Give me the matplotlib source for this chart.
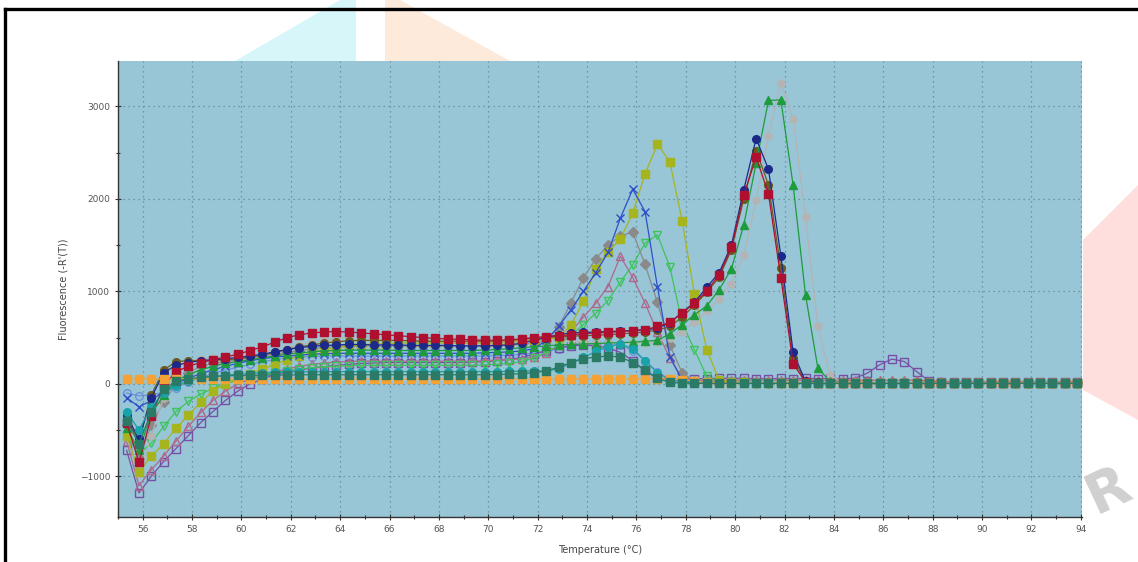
########################################################################
# Melt curve (-R'(T)) vs temperature, re-drawn with matplotlib ---------
########################################################################
import numpy as np
import matplotlib
matplotlib.use('agg')
import matplotlib.pyplot as plt
from matplotlib.lines import Line2D
from matplotlib.patches import Polygon
from matplotlib.ticker import MultipleLocator

W, H = 1138, 562

# temperature steps of the instrument (0.5 C)
temperature = np.arange(55.35, 94.0, 0.5)   # 78 readings

# series values, one list per well (same length as temperature)
navy = [-340, -600, -150, 120, 200, 230, 250, 260, 270, 285, 300, 320, 345,
        370, 390, 405, 415, 420, 425, 425, 420, 420, 420, 415, 415, 415,
        415, 410, 410, 410, 415, 420, 440, 470, 500, 530, 550, 555, 560,
        565, 570, 575, 585, 600, 660, 770, 880, 1045, 1200, 1500, 2100, 2650,
        2320, 1384, 339, 25, 15, 12, 12, 10, 11, 10, 12, 10, 10,
        11, 10, 10, 12, 10, 10, 11, 10, 10, 12, 10, 10, 10]
red = [-420, -850, -350, -20, 130, 190, 230, 260, 290, 320, 360, 400, 450,
       500, 530, 550, 560, 565, 560, 550, 540, 530, 520, 510, 500, 490,
       485, 480, 475, 470, 470, 475, 485, 500, 511, 520, 530, 540, 550,
       555, 565, 576, 584, 620, 663, 764, 872, 1005, 1178, 1474, 2043, 2450,
       2054, 1146, 216, 20, 12, 10, 12, 10, 10, 12, 10, 10, 12,
       10, 10, 12, 10, 10, 12, 10, 10, 12, 10, 10, 12, 10]
green_tri = [-480, -720, -330, -120, 30, 100, 150, 190, 220, 240, 260, 280, 300,
             320, 335, 345, 355, 360, 365, 365, 365, 365, 360, 360, 360, 360,
             360, 360, 360, 365, 370, 380, 390, 400, 410, 420, 425, 430, 435,
             440, 445, 450, 460, 470, 540, 640, 746, 843, 1016, 1243, 1719, 2386,
             3063, 3070, 2144, 962, 169, 25, 15, 12, 10, 12, 10, 10, 12,
             10, 10, 12, 10, 10, 12, 10, 10, 12, 10, 10, 12, 10]
gray_hex = [-580, -980, -560, -150, 180, 250, 270, 280, 290, 300, 320, 340, 360,
            390, 420, 450, 470, 490, 500, 505, 510, 510, 510, 510, 505, 500,
            500, 495, 490, 490, 490, 490, 490, 490, 480, 470, 460, 450, 445,
            440, 440, 440, 445, 455, 500, 560, 673, 782, 919, 1081, 1395, 1982,
            2681, 3257, 2862, 1802, 627, 90, 20, 15, 14, 12, 14, 12, 12,
            14, 12, 12, 14, 12, 12, 14, 12, 12, 14, 12, 12, 12]
olive = [-560, -950, -780, -650, -480, -340, -200, -80, 0, 60, 110, 160, 210,
         260, 300, 340, 370, 390, 410, 420, 430, 435, 440, 440, 440, 440,
         440, 440, 440, 440, 445, 450, 460, 470, 480, 497, 638, 890, 1240,
         1430, 1564, 1845, 2270, 2590, 2403, 1765, 973, 368, 40, 20, 15, 12,
         12, 10, 12, 10, 10, 12, 10, 10, 12, 10, 10, 12, 10,
         10, 12, 10, 10, 12, 10, 10, 12, 10, 10, 12, 10, 10]
blue_x = [-150, -250, -180, -80, 0, 60, 110, 150, 190, 220, 250, 270, 290,
          300, 310, 320, 325, 330, 330, 330, 330, 330, 330, 330, 330, 330,
          330, 330, 330, 335, 340, 345, 355, 380, 470, 620, 800, 1000, 1200,
          1420, 1791, 2104, 1862, 1052, 295, 40, 20, 15, 12, 12, 10, 10,
          10, 12, 10, 10, 12, 10, 10, 12, 10, 10, 12, 10, 10,
          12, 10, 10, 12, 10, 10, 12, 10, 10, 12, 10, 10, 10]
mauve = [-620, -1100, -930, -780, -620, -460, -310, -180, -80, 0, 50, 90, 130,
         160, 190, 210, 225, 235, 240, 245, 245, 245, 245, 245, 245, 245,
         245, 245, 245, 250, 255, 260, 270, 290, 330, 420, 560, 720, 870,
         1052, 1378, 1150, 872, 560, 280, 60, 40, 38, 40, 38, 40, 38,
         40, 38, 40, 38, 40, 38, 40, 38, 40, 38, 40, 38, 40,
         30, 25, 22, 20, 22, 20, 22, 20, 22, 20, 22, 20, 20]
green_open = [-560, -760, -640, -460, -300, -190, -110, -50, 0, 40, 70, 100, 120,
              140, 160, 175, 185, 190, 195, 200, 200, 200, 200, 200, 200, 200,
              200, 200, 200, 205, 210, 220, 240, 280, 340, 420, 520, 640, 760,
              900, 1100, 1286, 1521, 1611, 1268, 659, 368, 80, 20, 15, 15, 12,
              12, 10, 12, 10, 10, 12, 10, 10, 12, 10, 10, 12, 10,
              10, 12, 10, 10, 12, 10, 10, 12, 10, 10, 12, 10, 10]
gray_dia = [-450, -800, -450, -200, 0, 120, 190, 220, 240, 260, 280, 300, 320,
            340, 360, 380, 395, 405, 410, 410, 410, 410, 410, 410, 410, 410,
            410, 410, 410, 410, 415, 420, 430, 440, 460, 616, 875, 1146, 1350,
            1500, 1600, 1640, 1290, 880, 420, 120, 30, 20, 18, 16, 15, 14,
            14, 12, 14, 12, 12, 14, 12, 12, 14, 12, 12, 14, 12,
            12, 14, 12, 12, 14, 12, 12, 14, 12, 12, 14, 12, 12]
purple = [-720, -1180, -1000, -840, -700, -560, -420, -300, -180, -80, 0, 50, 100,
          130, 150, 170, 185, 200, 210, 220, 225, 230, 230, 230, 230, 230,
          230, 230, 235, 240, 250, 265, 285, 320, 360, 390, 410, 420, 410,
          390, 340, 250, 140, 60, 45, 50, 55, 55, 60, 60, 60, 55,
          55, 58, 55, 58, 55, 58, 55, 60, 115, 205, 267, 241, 133,
          30, 20, 15, 15, 15, 15, 15, 15, 15, 15, 15, 15, 15]
teal = [-300, -500, -250, -100, -20, 30, 60, 80, 95, 105, 110, 120, 125,
        128, 130, 130, 132, 132, 132, 132, 132, 132, 132, 132, 132, 132,
        132, 132, 132, 132, 132, 134, 136, 138, 140, 160, 227, 285, 350,
        400, 430, 380, 250, 120, 40, 20, 15, 12, 10, 10, 10, 10,
        10, 12, 10, 10, 12, 10, 10, 12, 10, 10, 12, 10, 10,
        12, 10, 10, 12, 10, 10, 12, 10, 10, 12, 10, 10, 10]
cornflower = [-100, -130, -120, -90, -40, 20, 70, 110, 150, 180, 210, 240, 260,
              280, 290, 295, 300, 300, 300, 300, 300, 300, 300, 300, 300, 300,
              300, 300, 300, 300, 305, 310, 320, 330, 350, 380, 410, 430, 440,
              440, 420, 360, 250, 130, 50, 25, 20, 18, 16, 15, 14, 14,
              14, 12, 14, 12, 12, 14, 12, 12, 14, 12, 12, 14, 12,
              12, 14, 12, 12, 14, 12, 12, 14, 12, 12, 14, 12, 12]
dark_olive = [-380, -620, -120, 150, 240, 250, 250, 255, 260, 270, 290, 310, 340,
              370, 400, 420, 440, 455, 465, 470, 470, 470, 470, 465, 460, 460,
              460, 460, 460, 460, 465, 470, 480, 490, 500, 510, 515, 520, 525,
              530, 540, 550, 560, 580, 620, 720, 850, 990, 1150, 1450, 2000, 2520,
              2150, 1250, 280, 20, 12, 10, 12, 10, 10, 12, 10, 10, 12,
              10, 10, 12, 10, 10, 12, 10, 10, 12, 10, 10, 12, 10]
orange = [50, 55, 52, 50, 55, 52, 50, 55, 50, 52, 55, 50, 52,
          55, 50, 52, 55, 50, 52, 55, 50, 52, 55, 50, 52, 55,
          50, 52, 55, 50, 52, 55, 50, 52, 55, 50, 52, 55, 50,
          52, 55, 50, 52, 55, 50, 45, 30, 15, 10, 8, 8, 8,
          8, 8, 8, 8, 8, 8, 8, 8, 8, 8, 8, 8, 8,
          8, 8, 8, 8, 8, 8, 8, 8, 8, 8, 8, 8, 8]
dark_green = [-400, -650, -300, -60, 30, 55, 70, 80, 85, 90, 90, 95, 95,
              95, 98, 98, 98, 98, 98, 98, 98, 98, 98, 98, 98, 98,
              98, 98, 98, 98, 100, 105, 110, 120, 140, 180, 230, 270, 290,
              300, 290, 230, 150, 60, 15, 6, 5, 4, 5, 4, 5, 4,
              5, 4, 5, 4, 5, 4, 5, 4, 5, 4, 5, 4, 5,
              4, 5, 4, 5, 4, 5, 4, 5, 4, 5, 4, 5, 4]

# draw order = list order (last one on top)
series = [
    ('cornflower', cornflower, 'o', '#6f8fdc', False),
    ('purple',     purple,     's', '#7650a6', False),
    ('mauve',      mauve,      '^', '#b0688c', False),
    ('green_open', green_open, 'v', '#3dc45c', False),
    ('gray_dia',   gray_dia,   'D', '#8a8a8a', True),
    ('gray_hex',   gray_hex,   'h', '#b4b4b4', True),
    ('olive',      olive,      's', '#a6b41e', True),
    ('blue_x',     blue_x,     'x', '#2f4fca', True),
    ('dark_olive', dark_olive, 'o', '#6b5a1e', True),
    ('green_tri',  green_tri,  '^', '#1e9b3c', True),
    ('navy',       navy,       'o', '#1b2a8a', True),
    ('red',        red,        's', '#b01030', True),
    ('teal',       teal,       'o', '#1aa2aa', True),
    ('orange',     orange,     's', '#f4a236', True),
    ('dark_green', dark_green, 's', '#2a7a66', True),
]
for name, vals, mk, col, filled in series:
    if len(vals) != len(temperature):
        print('length mismatch:', name, len(vals))

fig = plt.figure(figsize=(W / 100, H / 100), dpi=100)
fig.patch.set_facecolor('white')

# watermark shapes (pixel coords from top-left)
def px_poly(pts, color, alpha=1.0):
    xy = [(x / W, 1 - y / H) for x, y in pts]
    fig.add_artist(Polygon(xy, closed=True, transform=fig.transFigure,
                           facecolor=color, edgecolor='none', alpha=alpha, zorder=0))

px_poly([(235, 61), (340, 0), (356, 0), (356, 61)], '#d6f6fa')
px_poly([(385, 0), (400, 0), (510, 61), (385, 61)], '#fdeadb')
px_poly([(1083, 240), (1138, 185), (1138, 420), (1083, 390)], '#ffdede')

ax = fig.add_axes([118 / W, 1 - 517 / H, (1082 - 118) / W, (517 - 61) / H])
ax.set_facecolor('#98c6d6')

for name, vals, mk, col, filled in series:
    ax.plot(temperature, vals, color=col, lw=0.9, marker=mk, markersize=5.5,
            markerfacecolor=col if filled else 'none', markeredgecolor=col,
            markeredgewidth=1.0)

ax.set_xlim(55.0, 94.05)
ax.set_ylim(-1440, 3490)
ax.xaxis.set_major_locator(MultipleLocator(2))
ax.xaxis.set_minor_locator(MultipleLocator(1))
ax.yaxis.set_major_locator(MultipleLocator(1000))
ax.yaxis.set_minor_locator(MultipleLocator(500))
ax.tick_params(which='both', direction='inout', color='#333333', labelsize=6.5,
               labelcolor='#555555')
ax.tick_params(which='major', length=4, width=0.8)
ax.tick_params(which='minor', length=3, width=0.8)
ax.grid(True, which='major', color='#5e8796', linestyle=(0, (1, 3)), lw=0.9)

for s in ('top', 'right'):
    ax.spines[s].set_visible(False)
for s in ('left', 'bottom'):
    ax.spines[s].set_color('#333333')
    ax.spines[s].set_linewidth(1.0)

ax.set_xlabel('Temperature (\u00b0C)', fontsize=7, color='#444444', labelpad=8)
ax.set_ylabel("Fluorescence (-R'(T))", fontsize=7, color='#444444', labelpad=8)

# black frame of the screenshot (top and left edges)
fig.add_artist(Line2D([5 / W, 1], [1 - 9 / H, 1 - 9 / H], color='black', lw=2.4,
                      transform=fig.transFigure))
fig.add_artist(Line2D([5 / W, 5 / W], [0, 1 - 9 / H], color='black', lw=2.4,
                      transform=fig.transFigure))

fig.text(1108 / W, 1 - 490 / H, 'R', fontsize=40, color='#d0d0d0', rotation=25,
         ha='center', va='center', fontweight='bold')

fig.savefig('out.png', dpi=100)
print('saved out.png')
